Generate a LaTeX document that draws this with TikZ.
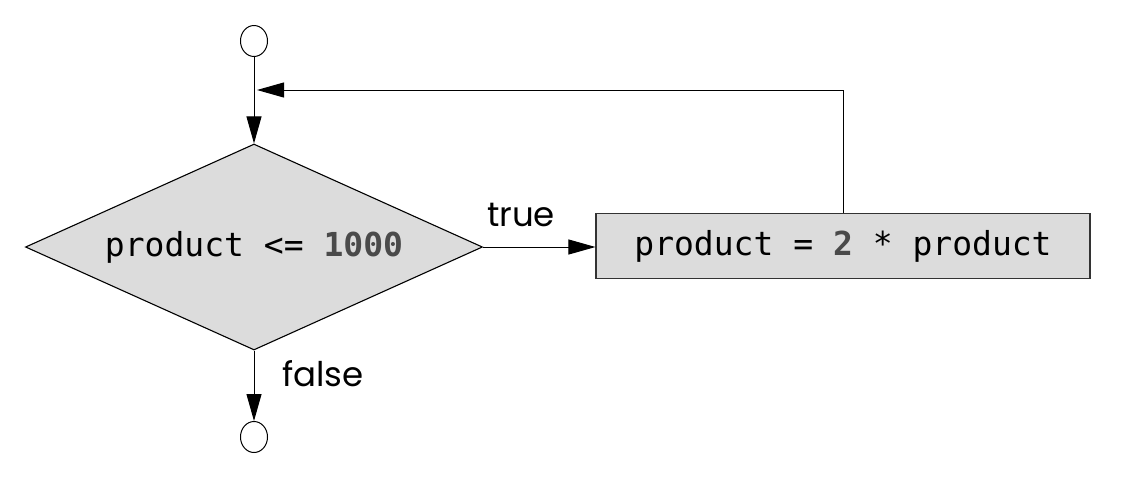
\documentclass[tikz,border=0pt]{standalone}
\usepackage{fontspec}
\setmainfont{Poppins}
\setmonofont{DejaVu Sans Mono}
\usetikzlibrary{shapes.geometric,arrows.meta}
\definecolor{boxfill}{HTML}{DCDCDC}
\definecolor{numgray}{HTML}{4A4A4A}
\tikzset{
  conn/.style={draw=black, line width=1pt},
  arr/.style={conn, -{Triangle[length=27pt,width=15pt]}},
  termcircle/.style={ellipse, draw=black, line width=1pt, fill=white, minimum width=27pt, minimum height=31pt, inner sep=0pt},
  decbox/.style={diamond, draw=black, line width=1.1pt, fill=boxfill, shape aspect=2.218, minimum width=457pt, minimum height=206pt, inner sep=0pt},
  actbox/.style={rectangle, draw=black!80, line width=1.1pt, fill=boxfill, minimum width=494pt, minimum height=65pt, inner sep=0pt},
  codetxt/.style={font=\fontsize{33}{36}\selectfont\ttfamily},
  lbl/.style={font=\fontsize{34}{38}\selectfont, inner sep=0pt},
}
\newcommand{\numtxt}[1]{\textcolor{numgray}{\bfseries #1}}
\begin{document}
\begin{tikzpicture}[x=1pt,y=-1pt]
\useasboundingbox (0,0) rectangle (1140,496);
\node[termcircle] (start) at (254,41) {};
\node[decbox, codetxt] (dec) at (254,247) {product <= \numtxt{1000}};
\node[actbox, codetxt] (act) at (843,246) {product = \numtxt{2} * product};
\node[termcircle] (stop) at (254,437) {};
\coordinate (join) at (257,90);
\draw[arr] (start) -- (dec.north);
\draw[arr] (dec.east) -- (dec.east -| act.west);
\draw[arr] (dec.south) -- (stop);
\draw[arr] (act.north) |- (join);
\node[lbl] (ltrue) at (521,215) {true};
\node[lbl] (lfalse) at (323,374) {false};
\end{tikzpicture}
\end{document}
